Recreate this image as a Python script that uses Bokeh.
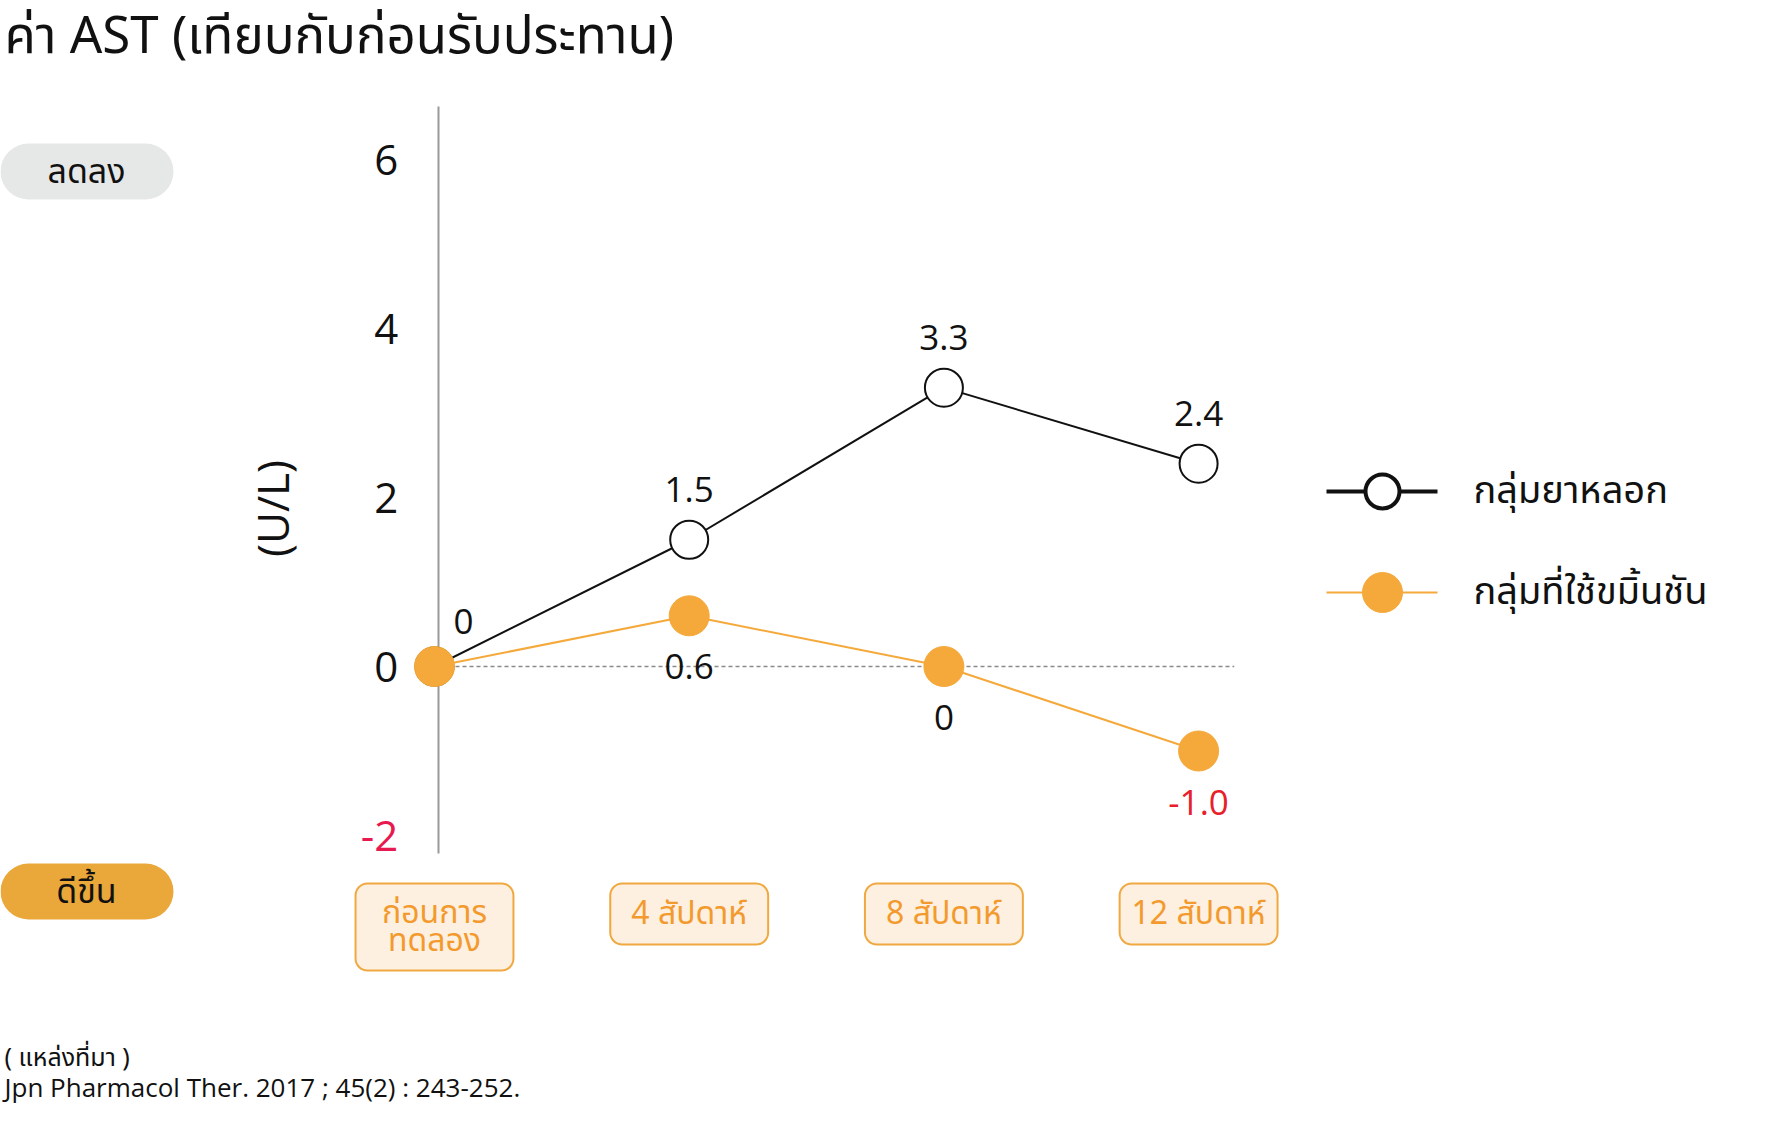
import math
from bokeh.plotting import figure
from bokeh.models import (Range1d, LinearAxis, FixedTicker, LabelSet,
                          ColumnDataSource, BoxAnnotation, PolyAnnotation)
from bokeh.core.properties import value
from bokeh.embed import file_html
from bokeh.resources import INLINE

# ---------------- data ----------------
categories = ["ก่อนการ\nทดลอง", "4 สัปดาห์", "8 สัปดาห์", "12 สัปดาห์"]
x_index = [0, 1, 2, 3]
placebo_values = [0.0, 1.5, 3.3, 2.4]
turmeric_values = [0.0, 0.6, 0.0, -1.0]
placebo_labels = ["0", "1.5", "3.3", "2.4"]
turmeric_labels = ["", "0.6", "0", "-1.0"]
series_names = ["กลุ่มยาหลอก", "กลุ่มที่ใช้ขมิ้นชัน"]
y_ticks = [-2, 0, 2, 4, 6]
title_text = "ค่า AST (เทียบกับก่อนรับประทาน)"
y_axis_label = "(U/L)"
up_label = "ลดลง"
down_label = "ดีขึ้น"
source_heading = "( แหล่งที่มา )"
source_citation = "Jpn Pharmacol Ther. 2017 ; 45(2) : 243-252."

# ---------------- layout / style ----------------
W, H = 1767, 1105
PAGE_L, PAGE_T = 0, 0
X0_PX, X_STEP = 434.0, 254.7      # px of first category, px per category
Y0_PX, Y_UNIT = 666.0, 84.5       # px of value 0, px per unit
AXIS_X = 0.015
AXIS_BOUNDS = (-2.21, 6.63)
ZERO_LINE_END = 3.14

LATIN = "Open Sans"
THAI = "Noto Sans Thai, Noto Sans, sans-serif"
BLACK = "#111111"
ORANGE = "#F5A93B"
ORANGE_DARK = "#EAA73A"
GRAY_ARROW = "#7F817F"
RED = "#E8202A"
RED_TICK = "#E8194F"
CAT_TEXT = "#F39A2E"

x_range = Range1d((PAGE_L - X0_PX) / X_STEP, (PAGE_L + W - X0_PX) / X_STEP)
y_range = Range1d((Y0_PX - (PAGE_T + H)) / Y_UNIT, (Y0_PX - PAGE_T) / Y_UNIT)

p = figure(width=W, height=H, x_range=x_range, y_range=y_range,
           x_axis_location=None, y_axis_location=None,
           toolbar_location=None, output_backend="svg", min_border=0,
           outline_line_color=None, background_fill_color="white",
           border_fill_color="white")
p.xgrid.visible = False
p.ygrid.visible = False
p.extra_x_ranges = {"px": Range1d(PAGE_L, PAGE_L + W)}
p.extra_y_ranges = {"py": Range1d(PAGE_T + H, PAGE_T)}

# ---------------- y axis ----------------
pos_ticks = [t for t in y_ticks if t >= 0]
neg_ticks = [t for t in y_ticks if t < 0]
yaxis = LinearAxis(fixed_location=AXIS_X, bounds=AXIS_BOUNDS,
                   ticker=FixedTicker(ticks=pos_ticks))
yaxis.axis_line_color = "#9a9a9a"
yaxis.axis_line_width = 2
yaxis.major_tick_line_color = None
yaxis.minor_tick_line_color = None
yaxis.major_tick_out = 0
yaxis.major_tick_in = 0
yaxis.major_label_standoff = 40
yaxis.major_label_text_font = LATIN
yaxis.major_label_text_font_size = "42px"
yaxis.major_label_text_color = BLACK
yaxis.level = "underlay"
p.add_layout(yaxis, "left")

p.text(x=[AXIS_X] * len(neg_ticks), y=neg_ticks, text=[str(t) for t in neg_ticks],
       x_offset=-40, text_align="right", text_baseline="middle",
       text_color=RED_TICK, text_font=value(LATIN), text_font_size="42px")

# zero reference line
p.segment(x0=[0], y0=[0], x1=[ZERO_LINE_END], y1=[0], line_color="#8a8a8a",
          line_width=1.5, line_dash="4 3")

# ---------------- series ----------------
p.line(x_index, placebo_values, line_color=BLACK, line_width=2)
p.scatter(x_index, placebo_values, size=38, fill_color="white",
          line_color=BLACK, line_width=2)
p.line(x_index, turmeric_values, line_color=ORANGE, line_width=2)
p.scatter(x_index, turmeric_values, size=40, fill_color=ORANGE,
          line_color=ORANGE, line_width=1)

# data labels
pl_src = ColumnDataSource(dict(
    x=x_index, y=placebo_values, text=placebo_labels,
    dx=[29 if i == 0 else 0 for i in x_index],
    dy=[45 if i == 0 else 50 for i in x_index]))
p.add_layout(LabelSet(x="x", y="y", text="text", source=pl_src,
                      x_offset="dx", y_offset="dy", text_align="center",
                      text_baseline="middle", text_font=value(LATIN),
                      text_font_size="35px", text_color=BLACK))
tm_src = ColumnDataSource(dict(
    x=x_index, y=turmeric_values, text=turmeric_labels,
    color=[RED if v < 0 else BLACK for v in turmeric_values]))
p.add_layout(LabelSet(x="x", y="y", text="text", source=tm_src,
                      y_offset=-51, text_align="center",
                      text_baseline="middle", text_font=value(LATIN),
                      text_font_size="35px", text_color="color"))

# ---------------- category boxes ----------------
CAT_TOP, CAT_H1, CAT_H2, CAT_HALF_W, CAT_LINE_GAP = 883, 61, 87, 0.31, 28
cat_x, cat_y, cat_t = [], [], []
for i, c in zip(x_index, categories):
    lines = c.split("\n")
    h = CAT_H2 if len(lines) > 1 else CAT_H1
    p.add_layout(BoxAnnotation(left=i - CAT_HALF_W, right=i + CAT_HALF_W,
                               top=CAT_TOP, bottom=CAT_TOP + h,
                               y_range_name="py", fill_color="#FEF0E0",
                               fill_alpha=1, line_color="#F0A840",
                               line_alpha=1, line_width=2, border_radius=12,
                               level="underlay"))
    center = CAT_TOP + h / 2
    for j, ln in enumerate(lines):
        cat_x.append(i)
        cat_y.append(center + (j - (len(lines) - 1) / 2) * CAT_LINE_GAP)
        cat_t.append(ln)
p.text(x=cat_x, y=cat_y, text=cat_t, y_range_name="py",
       text_align="center", text_baseline="middle", text_color=CAT_TEXT,
       text_font=value(THAI), text_font_size="32px")

# ---------------- legend (custom) ----------------
LEG_Y = [491, 592]
LEG_X0, LEG_X1, LEG_MX, LEG_TX = 1326, 1437, 1382, 1473
p.segment(x0=[LEG_X0], y0=[LEG_Y[0]], x1=[LEG_X1], y1=[LEG_Y[0]],
          line_color=BLACK, line_width=4, x_range_name="px", y_range_name="py")
p.scatter([LEG_MX], [LEG_Y[0]], size=34, fill_color="white", line_color=BLACK,
          line_width=4, x_range_name="px", y_range_name="py")
p.segment(x0=[LEG_X0], y0=[LEG_Y[1]], x1=[LEG_X1], y1=[LEG_Y[1]],
          line_color=ORANGE, line_width=2, x_range_name="px", y_range_name="py")
p.scatter([LEG_MX], [LEG_Y[1]], size=40, fill_color=ORANGE, line_color=ORANGE,
          x_range_name="px", y_range_name="py")
p.text(x=[LEG_TX] * 2, y=LEG_Y, text=series_names, x_range_name="px",
       y_range_name="py", text_align="left", text_baseline="middle",
       text_color=BLACK, text_font=value(THAI), text_font_size="38px")

# ---------------- left indicator panel ----------------
p.add_layout(BoxAnnotation(left=0, right=173, top=143, bottom=199,
                           x_range_name="px", y_range_name="py",
                           fill_color="#E6E7E7", fill_alpha=1, line_alpha=0,
                           border_radius=28, level="underlay"))
p.add_layout(BoxAnnotation(left=0, right=173, top=863, bottom=919,
                           x_range_name="px", y_range_name="py",
                           fill_color=ORANGE_DARK, fill_alpha=1, line_alpha=0,
                           border_radius=28, level="underlay"))
p.add_layout(PolyAnnotation(xs=[82, 125, 111, 111, 52, 52, 39],
                            ys=[244, 307, 307, 651, 651, 307, 307],
                            x_range_name="px", y_range_name="py",
                            fill_color=GRAY_ARROW, fill_alpha=1, line_alpha=0))
p.add_layout(PolyAnnotation(xs=[52, 111, 111, 125, 82, 39, 52],
                            ys=[690, 690, 759, 759, 822, 759, 759],
                            x_range_name="px", y_range_name="py",
                            fill_color=ORANGE_DARK, fill_alpha=1, line_alpha=0))
p.text(x=[86, 86], y=[172, 892], text=[up_label, down_label],
       x_range_name="px", y_range_name="py", text_align="center",
       text_baseline="middle", text_color=BLACK, text_font=value(THAI),
       text_font_size="34px")

# y unit label
p.text(x=[271], y=[508], text=[y_axis_label], angle=math.pi / 2,
       x_range_name="px", y_range_name="py", text_align="center",
       text_baseline="middle", text_color=BLACK, text_font=value(LATIN),
       text_font_size="44px")

# title
p.text(x=[4], y=[37], text=[title_text], x_range_name="px", y_range_name="py",
       text_align="left", text_baseline="middle", text_color=BLACK,
       text_font=value(THAI), text_font_size="51px")

# source
p.text(x=[4], y=[1057], text=[source_heading], x_range_name="px",
       y_range_name="py", text_align="left", text_baseline="middle",
       text_color=BLACK, text_font=value(THAI), text_font_size="25px")
p.text(x=[4], y=[1086], text=[source_citation], x_range_name="px",
       y_range_name="py", text_align="left", text_baseline="middle",
       text_color=BLACK, text_font=value(LATIN), text_font_size="26px")

open("out.html", "w").write(file_html(p, INLINE))
